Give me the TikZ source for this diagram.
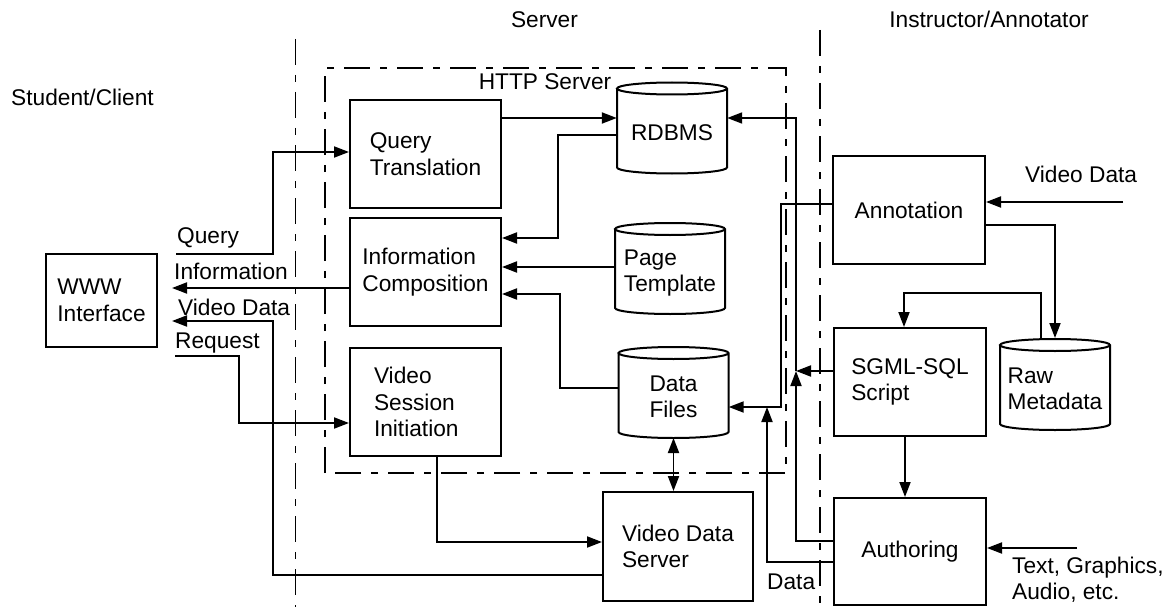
\documentclass[tikz,border=0pt]{standalone}
\usepackage{fontspec}
\setmainfont{Liberation Sans}
\usetikzlibrary{arrows.meta}
\begin{document}
\begin{tikzpicture}[x=1pt,y=-1pt,
  every node/.style={font=\fontsize{22.7}{26.5}\selectfont},
  box/.style={draw, line width=2pt, align=left, inner sep=0pt},
  db/.style={align=left, minimum width=110pt, inner sep=0pt},
  conn/.style={line width=1.9pt},
  tip/.tip={Triangle[length=15pt,width=11pt]},
  arr/.style={conn, -tip},
  sep/.style={line width=1.9pt, dash pattern=on 26pt off 10pt on 7pt off 10pt},
  lbl/.style={anchor=base west, inner sep=0pt},
]
\useasboundingbox (0,0) rectangle (1169,607);

% zone separators and the HTTP server frame
\draw[sep] (295.5,39) -- (295.5,607);
\draw[sep] (820,30) -- (820,607);
\draw[sep] (325,473) -- (325,68) -- (786,68) -- (786,473) -- cycle;

% headings
\node[lbl] (lsc) at (11,106) {Student/Client};
\node[anchor=base, inner sep=0pt] (lsv) at (544.5,28) {Server};
\node[anchor=base, inner sep=0pt] (lia) at (989,28) {Instructor/Annotator};
\node[anchor=base, inner sep=0pt] (lhttp) at (545,90) {HTTP Server};

% process boxes
\node[box, minimum width=151pt, minimum height=108pt] (qt) at (425.5,154) {Query\\Translation};
\node[box, minimum width=151pt, minimum height=108pt] (ic) at (425.5,272) {Information\\Composition};
\node[box, minimum width=151pt, minimum height=108pt, text width=103pt] (vsi) at (425.5,402) {Video\\Session\\Initiation};
\node[box, minimum width=111pt, minimum height=93pt] (www) at (101.5,300.5) {WWW\\Interface};
\node[box, minimum width=150pt, minimum height=109pt] (vds) at (678,546.5) {Video Data\\Server};
\node[box, minimum width=152pt, minimum height=108pt] (ann) at (909,210) {Annotation};
\node[box, minimum width=152pt, minimum height=108pt] (sgml) at (910,382) {SGML-SQL\\Script};
\node[box, minimum width=152pt, minimum height=107pt] (auth) at (910,551.5) {Authoring};

% data stores
\node[db] (rdb) at (672,132.5) {RDBMS};
\node[db] (tpl) at (670,273) {Page\\Template};
\node[db] (dfs) at (673.5,397) {Data\\Files};
\node[db] (raw) at (1055,389) {Raw\\Metadata};
\foreach \n in {rdb,tpl,dfs,raw}
  \draw[line width=2pt] ([shift={(-55pt,44pt)}]\n.center) -- ([shift={(-55pt,-35pt)}]\n.center)
    arc[start angle=180,end angle=360,x radius=55pt,y radius=6pt]
    -- ([shift={(55pt,44pt)}]\n.center)
    arc[start angle=0,end angle=360,x radius=55pt,y radius=6pt];

% flow labels
\node[lbl] (lq) at (177,243) {Query};
\node[lbl] (li) at (174,279) {Information};
\node[lbl] (lvd) at (178,315) {Video Data};
\node[lbl] (lrq) at (175,348) {Request};
\node[lbl] (ld) at (767,589) {Data};
\node[lbl] (lvin) at (1025,182) {Video Data};
\node[anchor=north west, inner sep=0pt, align=left] (ltin) at (1012,556.5) {Text, Graphics,\\Audio, etc.};

% free ends and junctions
\coordinate (cq) at (176,254);
\coordinate (ci) at (172,288);
\coordinate (cv) at (172,321);
\coordinate (cr) at (175,356);
\coordinate (cvin) at (1123,202);
\coordinate (ctin) at (1077,548);
\coordinate (j1) at (796,371);
\coordinate (j2) at (767,407);

% client side flows
\draw[arr] (cq) -- (273,254) -- (273,152) -- (qt.west |- 0,152);
\draw[arr] (ic.west |- 0,288) -- (ci);
\draw[arr] (vds.west |- 0,575) -- (273,575) -- (273,321) -- (cv);
\draw[arr] (cr) -- (239,356) -- (239,423) -- (vsi.west |- 0,423);

% server internal flows
\draw[arr] (qt.east |- 0,118) -- (rdb.west |- 0,118);
\draw[arr] (rdb.west |- 0,135) -- (558,135) -- (558,238) -- (ic.east |- 0,238);
\draw[arr] (tpl.west |- 0,267) -- (ic.east |- 0,267);
\draw[arr] (dfs.west |- 0,388) -- (560,388) -- (560,294) -- (ic.east |- 0,294);
\draw[conn, tip-tip] ([yshift=-41pt]dfs.center) -- (dfs.center |- vds.north);
\draw[arr] (vsi.south -| 437,0) -- (437,542) -- (vds.west |- 0,542);

% annotator side flows
\draw[arr] (ann.west |- 0,204) -- (781,204) -- (781,407) -- (dfs.east |- 0,407);
\draw[arr] (auth.west |- 0,541) -- (796,541) -- (j1);
\draw[arr] (j1) -- (796,118) -- (rdb.east |- 0,118);
\draw[arr] (sgml.west |- 0,371) -- (j1);
\draw[arr] (auth.west |- 0,562) -- (767,562) -- (j2);
\draw[arr] (cvin) -- (ann.east |- 0,202);
\draw[arr] (ann.east |- 0,225) -- (1055,225) -- ([yshift=51pt]raw.center);
\draw[arr] ([shift={(-14pt,51pt)}]raw.center) -- (1041,293) -- (904,293) -- (sgml.north -| 904,0);
\draw[arr] (sgml.south -| 905,0) -- (auth.north -| 905,0);
\draw[arr] (ctin) -- (auth.east |- 0,548);
\end{tikzpicture}
\end{document}
